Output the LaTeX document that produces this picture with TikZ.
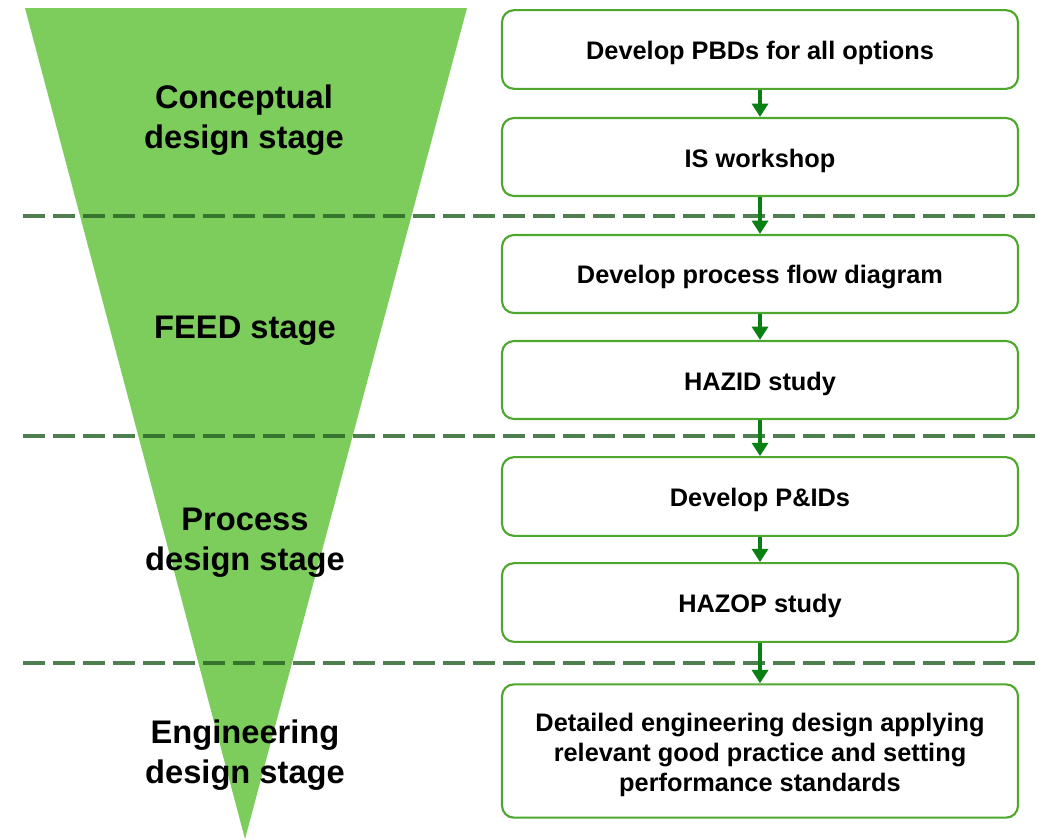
\documentclass[tikz,border=0pt]{standalone}
\usepackage{fontspec}
\setmainfont{Liberation Sans}
\usetikzlibrary{arrows.meta}
\definecolor{trifill}{RGB}{125,205,93}
\definecolor{boxline}{RGB}{78,167,46}
\definecolor{arrowgreen}{RGB}{10,128,20}
\definecolor{dashgreen}{RGB}{35,95,35}
\tikzset{
  stepbox/.style={draw=boxline, line width=1.6pt, rounded corners=9pt, fill=white,
    minimum width=387pt, inner sep=0pt},
  boxtext/.style={align=center, font=\fontsize{19}{22.5}\selectfont\bfseries, inner sep=0pt, yshift=-2.6pt},
  stagelabel/.style={align=center, font=\fontsize{24.5}{30}\selectfont\bfseries},
  flow/.style={arrowgreen, line width=3.2pt, -{Triangle[width=12pt,length=10pt]}},
  divider/.style={dashgreen, draw opacity=0.8, line width=2.6pt, dash pattern=on 16.5pt off 6pt}
}
\begin{document}
\begin{tikzpicture}[x=0.75pt,y=-0.75pt]
\useasboundingbox (0,0) rectangle (1038,839);
\fill[trifill] (25,8) -- (467,8) -- (245,839) -- cycle;
% dividers
\coordinate (d1a) at (23,216); \coordinate (d1b) at (1038,216);
\coordinate (d2a) at (23,436); \coordinate (d2b) at (1038,436);
\coordinate (d3a) at (23,663); \coordinate (d3b) at (1038,663);
\draw[divider] (d1a) -- (d1b);
\draw[divider] (d2a) -- (d2b);
\draw[divider] (d3a) -- (d3b);
% stage labels
\node[stagelabel] (s1) at (244,120) {Conceptual\\design stage};
\node[stagelabel] (s2) at (245,331) {FEED stage};
\node[stagelabel] (s3) at (245,543) {Process\\design stage};
\node[stagelabel] (s4) at (245,755) {Engineering\\design stage};
% boxes
\node[stepbox, minimum height=59pt, label={[boxtext]center:Develop PBDs for all options}] (b1) at (760,49.5) {};
\node[stepbox, minimum height=58.5pt, label={[boxtext]center:IS workshop}] (b2) at (760,157) {};
\node[stepbox, minimum height=58.5pt, label={[boxtext]center:Develop process flow diagram}] (b3) at (760,274) {};
\node[stepbox, minimum height=58.5pt, label={[boxtext]center:HAZID study}] (b4) at (760,380) {};
\node[stepbox, minimum height=59pt, label={[boxtext]center:Develop P\&IDs}] (b5) at (760,496.5) {};
\node[stepbox, minimum height=59pt, label={[boxtext]center:HAZOP study}] (b6) at (760,602.5) {};
\node[stepbox, minimum height=100pt, label={[boxtext]center:{Detailed engineering design applying\\relevant good practice and setting\\performance standards}}] (b7) at (760,751) {};
% arrows
\draw[flow] (b1) -- (b2);
\draw[flow] (b2) -- (b3);
\draw[flow] (b3) -- (b4);
\draw[flow] (b4) -- (b5);
\draw[flow] (b5) -- (b6);
\draw[flow] (b6) -- (b7);
\end{tikzpicture}
\end{document}
